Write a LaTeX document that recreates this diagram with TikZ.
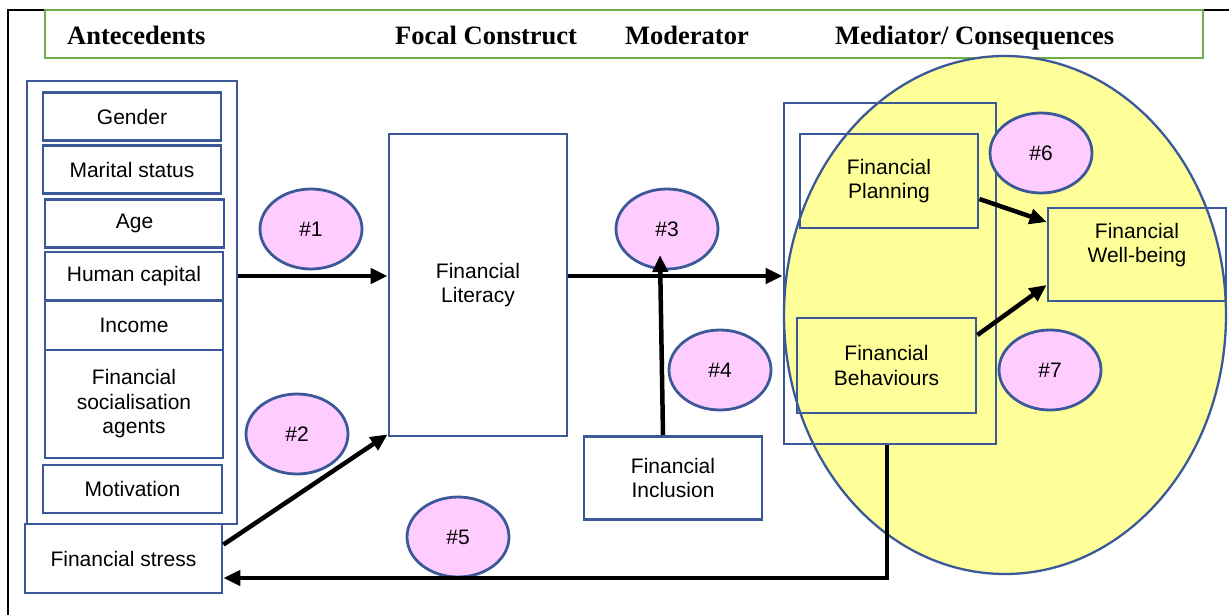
\documentclass[tikz,border=0pt]{standalone}
\usepackage{fontspec}
\setmainfont{Liberation Sans}
\newfontfamily\titlefont{Liberation Serif}
\usetikzlibrary{arrows.meta,shapes.geometric}
\definecolor{bblue}{RGB}{59,89,152}
\definecolor{pinkf}{RGB}{255,204,255}
\definecolor{yelf}{RGB}{255,255,153}
\definecolor{gframe}{RGB}{112,173,71}
\tikzset{
  bx/.style={draw=bblue, line width=2.8pt, inner sep=0pt, align=center,
    font=\fontsize{21}{24.5}\selectfont},
  txt/.style={inner sep=0pt, align=center, font=\fontsize{21}{24.5}\selectfont},
  num/.style={ellipse, draw=bblue, fill=pinkf, line width=2.8pt, inner sep=0pt,
    minimum width=102pt, minimum height=80pt, font=\fontsize{21}{24.5}\selectfont},
  ttl/.style={inner sep=0pt, anchor=base west, font=\titlefont\bfseries\fontsize{26.5}{30}\selectfont},
  arr/.style={line width=4.5pt, -{Triangle[length=17pt,width=15pt]}}
}
\begin{document}
\begin{tikzpicture}[x=1pt,y=-1pt]
\useasboundingbox (0,0) rectangle (1229,615);
% outer frame
\draw[line width=2pt] (8,615) -- (8,10) -- (1229,10);
% header
\node[draw=gframe, fill=white, line width=2.8pt, minimum width=1158pt, minimum height=48pt, inner sep=0pt] (hdr) at (624,34) {};
\node[ttl] (t1) at (67,45) {Antecedents};
\node[ttl] (t2) at (395,45) {Focal Construct};
\node[ttl] (t3) at (625,45) {Moderator};
\node[ttl] (t4) at (835,45) {Mediator/ Consequences};
% big ellipse
\node[ellipse, draw=bblue, fill=yelf, line width=2.3pt, minimum width=442pt, minimum height=518pt, inner sep=0pt] (big) at (1005,315) {};
% antecedents
\node[bx, minimum width=210pt, minimum height=443pt] (ant) at (132,302.5) {};
\node[bx, minimum width=178pt, minimum height=48pt] (g) at (132,116.5) {Gender};
\node[bx, minimum width=178pt, minimum height=48pt] (ms) at (132,169.5) {Marital status};
\node[bx, minimum width=179pt, minimum height=48pt] (age) at (134.5,223.5) {Age};
\node[bx, minimum width=178pt, minimum height=48pt] (hc) at (134,276) {Human capital};
\node[bx, minimum width=178pt, minimum height=49pt] (inc) at (134,325.5) {Income};
\node[bx, minimum width=178pt, minimum height=108pt] (soc) at (134,404) {Financial\\socialisation\\agents};
\node[bx, minimum width=179pt, minimum height=48pt] (mot) at (132.5,489) {Motivation};
\node[bx, minimum width=197pt, minimum height=69pt] (fs) at (123.5,558.5) {Financial stress};
% focal
\node[bx, minimum width=178pt, minimum height=302pt] (fl) at (478,285) {Financial\\Literacy};
% moderator
\node[bx, minimum width=178pt, minimum height=83pt] (fi) at (673,478) {Financial\\Inclusion};
% mediators
\node[bx, minimum width=212pt, minimum height=341pt] (med) at (890,273.5) {};
\node[bx, minimum width=178pt, minimum height=94pt] (fp) at (889,181) {Financial\\Planning};
\node[bx, minimum width=179pt, minimum height=95pt] (fb) at (886.5,365.5) {Financial\\Behaviours};
\node[bx, minimum width=178pt, minimum height=93pt] (wb) at (1137,254.5) {};
\node[txt] (wbt) at (1137,245) {Financial\\Well-being};
% numbered ellipses
\node[num] (n1) at (311,229) {\#1};
\node[num] (n2) at (297,434) {\#2};
\node[num] (n3) at (667,229) {\#3};
\node[num] (n4) at (720,370) {\#4};
\node[num] (n5) at (458,537) {\#5};
\node[num] (n6) at (1041,153) {\#6};
\node[num] (n7) at (1050,370) {\#7};
% connectors
\draw[arr] (ant.east |- hc.east) -- (fl.west |- hc.east);
\draw[arr] (fl.east |- hc.east) -- (med.west |- hc.east);
\coordinate (a4) at (660,255);
\draw[arr] ([xshift=-10pt]fi.north) -- (a4);
\draw[arr] ([yshift=-22pt]fs.north east) -- ([yshift=3pt]fl.south west);
\coordinate (a5) at (887,578);
\draw[arr] ([xshift=-3pt]med.south) -- (a5) -- (fs.east |- a5);
\draw[arr] ([yshift=-18pt]fp.east) -- ([yshift=32.5pt]wb.west);
\draw[arr] ([yshift=30.5pt]fb.east) -- ([yshift=-30.5pt]wb.west);
\end{tikzpicture}
\end{document}
